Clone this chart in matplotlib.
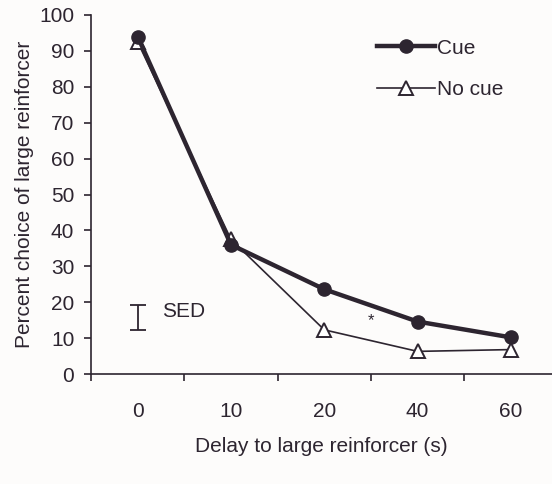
"""Percent choice of large reinforcer by delay, cue vs no-cue groups."""

import matplotlib

matplotlib.use("Agg")
import matplotlib.pyplot as plt

plt.rcParams["font.family"] = ["Liberation Sans", "DejaVu Sans"]

INK = "#2d2530"
BG = "#fdfcfb"
FS = 15

DELAYS = ["0", "10", "20", "40", "60"]
CUE = [94.0, 36.0, 23.6, 14.6, 10.2]
NO_CUE = [92.5, 37.5, 12.3, 6.3, 6.8]
SED_LOW, SED_HIGH = 12.3, 19.2


def main() -> None:
    fig = plt.figure(figsize=(5.52, 4.84), dpi=100, facecolor=BG)
    ax = fig.add_axes([91 / 552, 1 - 374 / 484, 1 - 91 / 552, (374 - 15) / 484])
    ax.set_facecolor(BG)

    x = list(range(len(DELAYS)))
    ax.plot(x, CUE, color=INK, lw=3.2, marker="o", ms=9.5,
            mfc=INK, mec=INK, label="Cue", zorder=3)
    ax.plot(x, NO_CUE, color=INK, lw=1.2, marker="^", ms=9.5,
            mfc="white", mec=INK, mew=1.4, label="No cue", zorder=2)

    # SED bar and annotation
    mid = (SED_LOW + SED_HIGH) / 2
    ax.errorbar([0], [mid], yerr=[[mid - SED_LOW], [SED_HIGH - mid]],
                color=INK, lw=1.3, capsize=6, capthick=1.3)
    ax.text(0.26, 17.3, "SED", fontsize=FS, color=INK, va="center", ha="left")
    ax.text(2.5, 15.0, "*", fontsize=12, color=INK, ha="center", va="center")

    ax.set_xlim(-0.5, 4.44)
    ax.set_ylim(0, 100)
    ax.set_yticks(range(0, 101, 10))
    ax.set_xticks(x)
    ax.set_xticklabels(DELAYS)
    ax.set_xticks([-0.5, 0.5, 1.5, 2.5, 3.5], minor=True)
    ax.tick_params(axis="x", which="major", length=0, pad=20,
                   labelsize=FS, labelcolor=INK)
    ax.tick_params(axis="x", which="minor", length=5, width=1.2,
                   color=INK, direction="out")
    ax.tick_params(axis="y", length=5, width=1.2, color=INK, pad=7,
                   labelsize=FS, labelcolor=INK, direction="out")

    for side in ("top", "right"):
        ax.spines[side].set_visible(False)
    for side in ("left", "bottom"):
        ax.spines[side].set_color(INK)
        ax.spines[side].set_linewidth(1.2)

    ax.set_xlabel("Delay to large reinforcer (s)", fontsize=FS,
                  color=INK, labelpad=12)
    ax.set_ylabel("Percent choice of large reinforcer", fontsize=FS,
                  color=INK, labelpad=4)

    ax.legend(loc="center left", bbox_to_anchor=(377 / 552, 1 - 69 / 484),
              bbox_transform=fig.transFigure, frameon=False, fontsize=FS,
              handlelength=2.8, handletextpad=0.1, labelspacing=1.1,
              borderpad=0, borderaxespad=0, labelcolor=INK)

    fig.savefig("out.png", dpi=100, facecolor=BG)
    plt.close(fig)


if __name__ == "__main__":
    main()
